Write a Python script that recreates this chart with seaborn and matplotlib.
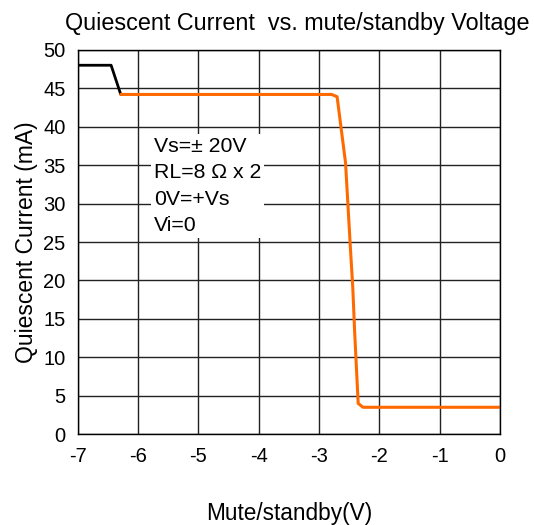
import matplotlib
matplotlib.use('Agg')
import matplotlib.pyplot as plt
import seaborn as sns

black_v = [-7.0, -6.45, -6.29]
black_i = [48.0, 48.0, 44.2]
orange_v = [-6.29, -2.79, -2.70, -2.63, -2.56, -2.52, -2.48, -2.44, -2.41, -2.38, -2.35, -2.27, 0.0]
orange_i = [44.2, 44.2, 43.9, 39.6, 35.3, 29.8, 24.3, 19.1, 13.5, 8.7, 4.0, 3.5, 3.5]
x_ticks = [-7, -6, -5, -4, -3, -2, -1, 0]
y_ticks = [0, 5, 10, 15, 20, 25, 30, 35, 40, 45, 50]
notes = ['Vs=\u00b1 20V', 'RL=8 \u03a9 x 2', '0V=+Vs', 'Vi=0']

sns.set_style('white')
plt.rcParams['font.family'] = ['Liberation Sans', 'DejaVu Sans']
plt.rcParams['axes.unicode_minus'] = False
plt.rcParams['text.color'] = 'black'
plt.rcParams['axes.labelcolor'] = 'black'
plt.rcParams['xtick.color'] = 'black'
plt.rcParams['ytick.color'] = 'black'

fig = plt.figure(figsize=(5.34, 5.25), dpi=100)
ax = fig.add_axes([0.146, 0.173, 0.79, 0.732])

sns.lineplot(x=black_v, y=black_i, sort=False, color='black', linewidth=2, ax=ax)
sns.lineplot(x=orange_v, y=orange_i, sort=False, color='#ff6a00', linewidth=2.2, ax=ax)

ax.set_xlim(-7, 0)
ax.set_ylim(0, 50)
ax.set_xticks(x_ticks)
ax.set_yticks(y_ticks)
ax.grid(True, color='#222222', linewidth=1)
ax.set_axisbelow(True)
for s in ax.spines.values():
    s.set_color('black')
    s.set_linewidth(1)
ax.tick_params(length=0, labelsize=14.5)
ax.tick_params(axis='x', pad=9)
ax.tick_params(axis='y', pad=9)

ax.text(-5.74, 38.7, '\n'.join(notes), fontsize=15.3, va='top', ha='left',
        linespacing=1.5,
        bbox=dict(facecolor='white', edgecolor='none', pad=2))

ax.set_title('Quiescent Current  vs. mute/standby Voltage', fontsize=16.8, pad=14, x=0.52)
ax.set_xlabel('Mute/standby(V)', fontsize=16.3, labelpad=26)
ax.set_ylabel('Quiescent Current (mA)', fontsize=16.5, labelpad=4)

fig.savefig('out.png', dpi=100)
